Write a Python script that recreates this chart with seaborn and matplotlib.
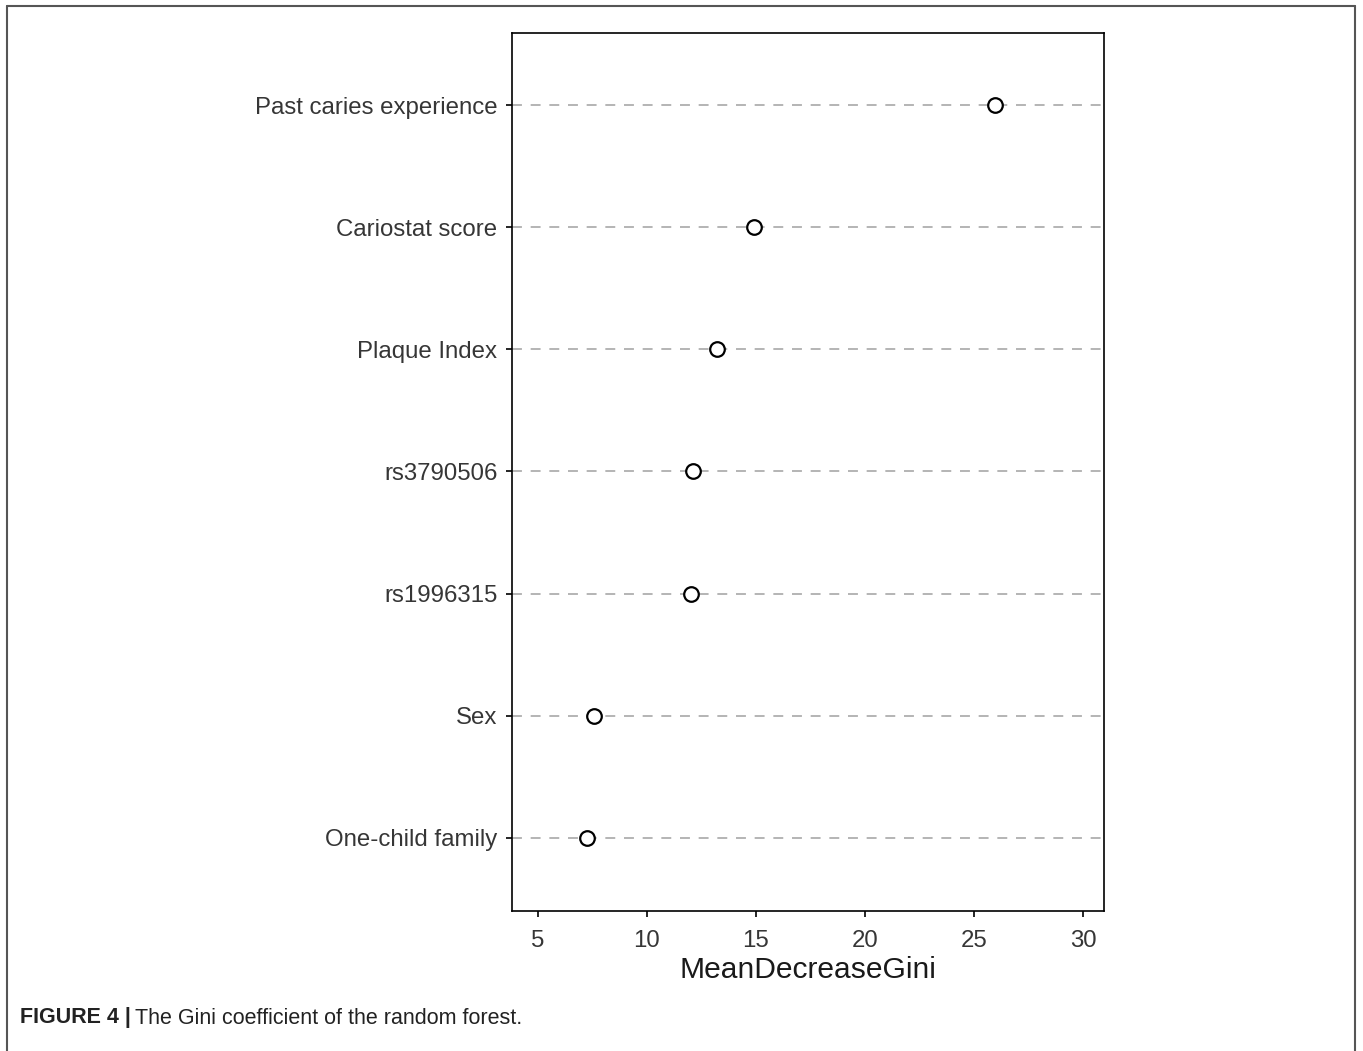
import pandas as pd
import matplotlib.pyplot as plt
import seaborn as sns
from matplotlib.lines import Line2D

# Variable importance values
features = ["Past caries experience", "Cariostat score", "Plaque Index",
            "rs3790506", "rs1996315", "Sex", "One-child family"]
gini = [25.95, 14.92, 13.22, 12.12, 12.02, 7.58, 7.26]
xticks = [5, 10, 15, 20, 25, 30]

df = pd.DataFrame({"feature": features, "MeanDecreaseGini": gini})

sns.set_style("white")
plt.rcParams["font.family"] = ["Liberation Sans", "DejaVu Sans"]

fig = plt.figure(figsize=(13.63, 10.51), dpi=100)
ax = fig.add_axes([0.3756, 0.1332, 0.8100 - 0.3756, 0.9686 - 0.1332])

sns.stripplot(data=df, x="MeanDecreaseGini", y="feature", order=features,
              jitter=False, color="white", edgecolor="black", linewidth=1.6,
              size=10.5, ax=ax, zorder=3)

ax.set_xlim(3.81, 30.96)
ax.set_ylim(6.6, -0.59)
ax.set_xticks(xticks)
ax.grid(axis="y", color="#b4b4b4", linewidth=1.4, dashes=(5.1, 4.5))
ax.grid(axis="x", visible=False)
ax.set_axisbelow(True)

for s in ax.spines.values():
    s.set_visible(True)
    s.set_color("black")
    s.set_linewidth(1.2)

ax.tick_params(axis="both", which="major", direction="out", length=4.5, width=1.2,
               color="black", labelsize=17.3, labelcolor="#363636")
ax.tick_params(axis="y", pad=6)
ax.tick_params(axis="x", pad=9)
ax.tick_params(left=True, bottom=True)
ax.set_ylabel("")
ax.set_xlabel("MeanDecreaseGini", fontsize=21.6, color="#1a1a1a", labelpad=3)

# outer figure frame (open at the bottom)
fx0, fx1, fy1 = 7 / 1363, 1355 / 1363, 1 - 6 / 1051
for xs, ys in [([fx0, fx0], [0, fy1]), ([fx0, fx1], [fy1, fy1]), ([fx1, fx1], [fy1, 0])]:
    fig.add_artist(Line2D(xs, ys, transform=fig.transFigure, color="#555555", lw=1.5))

# caption
cy = 1 - 1018 / 1051
t1 = fig.text(20 / 1363, cy, "FIGURE 4 |", fontsize=15.5, fontweight="bold",
              color="#222222", va="center")
fig.canvas.draw()
bb = t1.get_window_extent(fig.canvas.get_renderer())
fig.text(bb.x1 / fig.bbox.width + 0.003, cy, "The Gini coefficient of the random forest.",
         fontsize=15.5, color="#222222", va="center")

fig.savefig("out.png", dpi=100)
